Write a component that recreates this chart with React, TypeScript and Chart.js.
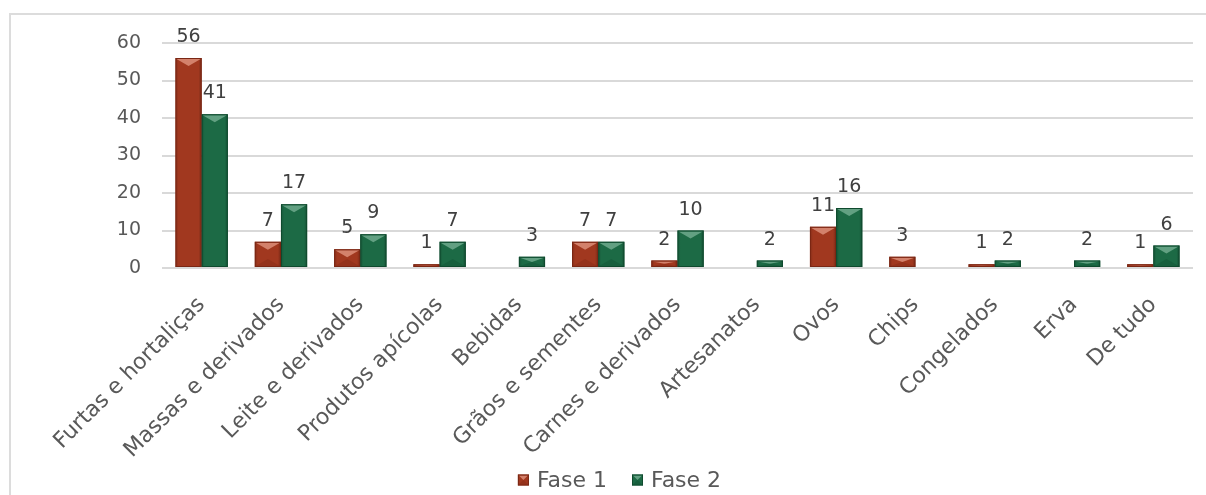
import React, { useEffect, useRef } from "react";
import { Chart, registerables } from "chart.js";

Chart.register(...registerables);

const categories = [
  "Furtas e hortaliças",
  "Massas e derivados",
  "Leite e derivados",
  "Produtos apícolas",
  "Bebidas",
  "Grãos e sementes",
  "Carnes e derivados",
  "Artesanatos",
  "Ovos",
  "Chips",
  "Congelados",
  "Erva",
  "De tudo",
];

const fase1 = [56, 7, 5, 1, null, 7, 2, null, 11, 3, 1, null, 1];
const fase2 = [41, 17, 9, 7, 3, 7, 10, 2, 16, null, 2, 2, 6];

const yTicks = [0, 10, 20, 30, 40, 50, 60];

const FONT = "'DejaVu Sans', sans-serif";
const TEXT = "#595959";

const RED = "#A1381F";
const RED_DARK = "#7A2714";
const RED_LIGHT = "#D88A73";
const GREEN = "#1C6A45";
const GREEN_DARK = "#0F4A2E";
const GREEN_LIGHT = "#6AA688";

const LEGEND_SPACE = 36;

function drawBevel(ctx: any, l: number, t: number, r: number, b: number, light: string, dark: string) {
  const h = b - t;
  const cx = (l + r) / 2;
  const bh = Math.min(8, h / 2);
  ctx.save();
  const g = ctx.createLinearGradient(l, 0, r, 0);
  g.addColorStop(0, "rgba(0,0,0,0.18)");
  g.addColorStop(0.12, "rgba(0,0,0,0)");
  g.addColorStop(0.88, "rgba(0,0,0,0)");
  g.addColorStop(1, "rgba(0,0,0,0.25)");
  ctx.fillStyle = g;
  ctx.fillRect(l, t, r - l, h);
  ctx.fillStyle = light;
  ctx.globalAlpha = 0.9;
  ctx.beginPath();
  ctx.moveTo(l + 1, t + 1);
  ctx.lineTo(r - 1, t + 1);
  ctx.lineTo(cx, t + bh);
  ctx.closePath();
  ctx.fill();
  if (h < 30) {
    ctx.globalAlpha = 0.35;
    ctx.fillStyle = dark;
    ctx.beginPath();
    ctx.moveTo(l + 1, b - 1);
    ctx.lineTo(r - 1, b - 1);
    ctx.lineTo(cx, b - bh);
    ctx.closePath();
    ctx.fill();
  }
  ctx.globalAlpha = 1;
  ctx.strokeStyle = dark;
  ctx.lineWidth = 1;
  ctx.strokeRect(l + 0.5, t + 0.5, r - l - 1, h - 1);
  ctx.restore();
}

// Bevelled look for each bar: light top facet, darker side edges.
const bevelPlugin = {
  id: "bevel",
  afterDatasetsDraw(chart: any) {
    const ctx = chart.ctx;
    chart.data.datasets.forEach((ds: any, di: number) => {
      const meta = chart.getDatasetMeta(di);
      const light = di === 0 ? RED_LIGHT : GREEN_LIGHT;
      const dark = di === 0 ? RED_DARK : GREEN_DARK;
      meta.data.forEach((bar: any, i: number) => {
        if (ds.data[i] == null) return;
        const p = bar.getProps(["x", "y", "base", "width"], true);
        drawBevel(
          ctx,
          p.x - p.width / 2,
          Math.min(p.y, p.base),
          p.x + p.width / 2,
          Math.max(p.y, p.base),
          light,
          dark
        );
      });
    });
  },
};

// Value labels above each bar.
const valueLabelPlugin = {
  id: "valueLabels",
  afterDatasetsDraw(chart: any) {
    const ctx = chart.ctx;
    ctx.save();
    ctx.font = `19px ${FONT}`;
    ctx.fillStyle = "#404040";
    ctx.textAlign = "center";
    ctx.textBaseline = "alphabetic";
    chart.data.datasets.forEach((ds: any, di: number) => {
      const meta = chart.getDatasetMeta(di);
      meta.data.forEach((bar: any, i: number) => {
        const v = ds.data[i];
        if (v == null) return;
        ctx.fillText(String(v), bar.x, bar.y - 16);
      });
    });
    ctx.restore();
  },
};

// Legend drawn at the bottom, centred, with bevelled swatches.
const legendPlugin = {
  id: "bottomLegend",
  afterDraw(chart: any) {
    const ctx = chart.ctx;
    const box = 11;
    const gapText = 8;
    const gapItem = 25;
    ctx.save();
    ctx.font = `22px ${FONT}`;
    ctx.textBaseline = "middle";
    ctx.textAlign = "left";
    const items = chart.data.datasets.map((ds: any, di: number) => ({
      text: ds.label,
      fill: ds.backgroundColor,
      light: di === 0 ? RED_LIGHT : GREEN_LIGHT,
      dark: di === 0 ? RED_DARK : GREEN_DARK,
      w: box + gapText + ctx.measureText(ds.label).width,
    }));
    const total = items.reduce((s: number, it: any) => s + it.w, 0) + gapItem * (items.length - 1);
    let x = chart.width / 2 - total / 2 + 11;
    const cy = chart.height - LEGEND_SPACE / 2 + 3;
    items.forEach((it: any) => {
      ctx.fillStyle = it.fill;
      ctx.fillRect(x, cy - box / 2, box, box);
      drawBevel(ctx, x, cy - box / 2, x + box, cy + box / 2, it.light, it.dark);
      ctx.fillStyle = TEXT;
      ctx.fillText(it.text, x + box + gapText, cy + 1);
      x += it.w + gapItem;
    });
    ctx.restore();
  },
};

export default function App() {
  const ref = useRef<HTMLCanvasElement | null>(null);

  useEffect(() => {
    document.body.style.overflow = "hidden";
    const canvas = ref.current;
    if (!canvas) return;
    const chart = new Chart(canvas, {
      type: "bar",
      data: {
        labels: categories,
        datasets: [
          {
            label: "Fase 1",
            data: fase1,
            backgroundColor: RED,
            borderWidth: 0,
            barPercentage: 1,
            categoryPercentage: 0.66,
          },
          {
            label: "Fase 2",
            data: fase2,
            backgroundColor: GREEN,
            borderWidth: 0,
            barPercentage: 1,
            categoryPercentage: 0.66,
          },
        ],
      },
      options: {
        animation: false,
        responsive: false,
        maintainAspectRatio: false,
        layout: { padding: { top: 28, right: 13, left: 0, bottom: LEGEND_SPACE } },
        plugins: {
          legend: { display: false },
          tooltip: { enabled: false },
        },
        scales: {
          x: {
            grid: { display: false },
            border: { display: false },
            ticks: {
              autoSkip: false,
              minRotation: 45,
              maxRotation: 45,
              color: TEXT,
              font: { family: FONT, size: 22 },
              padding: 16,
            },
            afterFit(scale: any) {
              scale.height = 191;
            },
          },
          y: {
            min: 0,
            max: 60,
            afterBuildTicks(scale: any) {
              scale.ticks = yTicks.map((v) => ({ value: v }));
            },
            grid: { color: "#D9D9D9", lineWidth: 2, drawTicks: false },
            border: { display: false },
            ticks: {
              color: TEXT,
              font: { family: FONT, size: 19 },
              padding: 21,
            },
            afterFit(scale: any) {
              scale.width = 151;
              scale.paddingTop = 0;
              scale.paddingBottom = 0;
            },
          },
        },
      },
      plugins: [bevelPlugin, valueLabelPlugin, legendPlugin],
    });
    return () => chart.destroy();
  }, []);

  return (
    <div
      style={{
        position: "absolute",
        left: 9,
        top: 13,
        borderTop: "2px solid #DCDCDC",
        borderLeft: "2px solid #DCDCDC",
        background: "#fff",
      }}
    >
      <canvas ref={ref} width={1195} height={480} style={{ display: "block" }} />
    </div>
  );
}
